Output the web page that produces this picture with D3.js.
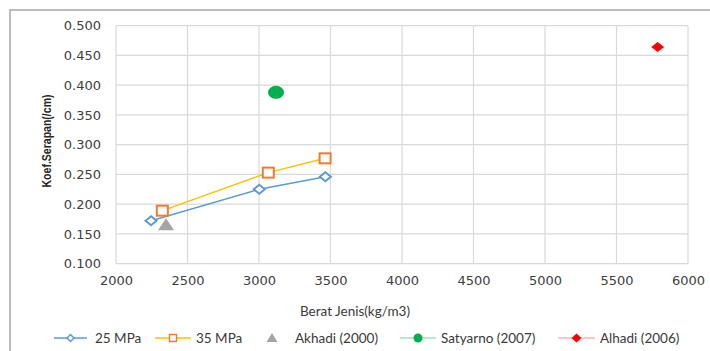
<!DOCTYPE html>
<html><head><meta charset="utf-8">
<script src="https://cdn.jsdelivr.net/npm/d3@7/dist/d3.min.js"></script>
<style>body{margin:0;background:#fff}svg{display:block}</style>
</head><body><svg id="c" width="710" height="351"></svg>
<script>
const seriesNames = ["25 MPa","35 MPa","Akhadi (2000)","Satyarno (2007)","Alhadi (2006)"];
const mpa25 = [[2245,0.172],[3002,0.225],[3464,0.246]];
const mpa35 = [[2324,0.189],[3065,0.253],[3462,0.277]];
const akhadi = [[2350,0.166]];
const satyarno = [[3119,0.388]];
const alhadi = [[5788,0.464]];
const xTicks = [2000,2500,3000,3500,4000,4500,5000,5500,6000];
const yTicks = [0.1,0.15,0.2,0.25,0.3,0.35,0.4,0.45,0.5];

const svg = d3.select("#c");
const x = d3.scaleLinear().domain([2000,6000]).range([116,688]);
const y = d3.scaleLinear().domain([0.1,0.5]).range([263.6,25.7]);

svg.append("rect").attr("x",10).attr("y",10).attr("width",720).attr("height",360)
  .attr("fill","#fff").attr("stroke","#a6a6a6").attr("stroke-width",1.5);

// grid
const g = svg.append("g");
g.selectAll(".gx").data(xTicks).join("line")
  .attr("x1",d=>x(d)).attr("x2",d=>x(d)).attr("y1",y(0.5)).attr("y2",y(0.1))
  .attr("stroke","#d9d9d9").attr("stroke-width",1.2);
g.selectAll(".gy").data(yTicks).join("line")
  .attr("y1",d=>y(d)).attr("y2",d=>y(d)).attr("x1",x(2000)).attr("x2",x(6000))
  .attr("stroke","#d9d9d9").attr("stroke-width",1.2);

// axes labels
const xAxis = svg.append("g").attr("transform",`translate(0,${y(0.1)})`)
  .call(d3.axisBottom(x).tickValues(xTicks).tickSize(0).tickPadding(12).tickFormat(d3.format("d")));
xAxis.select(".domain").remove();
xAxis.selectAll("text").attr("font-family","DejaVu Sans").attr("font-size",13).attr("fill","#404040");
const yAxis = svg.append("g").attr("transform",`translate(${x(2000)},0)`)
  .call(d3.axisLeft(y).tickValues(yTicks).tickSize(0).tickPadding(15).tickFormat(d3.format(".3f")));
yAxis.select(".domain").remove();
yAxis.selectAll("text").attr("font-family","DejaVu Sans").attr("font-size",13).attr("fill","#404040");

svg.append("text").attr("transform","translate(51,141) rotate(-90)").attr("text-anchor","middle")
  .attr("font-family","Liberation Sans Narrow, Liberation Sans").attr("font-weight","bold").attr("font-size",13.5)
  .attr("textLength",93).attr("lengthAdjust","spacingAndGlyphs")
  .attr("fill","#262626").text("Koef.Serapan(/cm)");
svg.append("text").attr("x",355).attr("y",316).attr("text-anchor","middle")
  .attr("font-family","Lato").attr("font-size",13.5).attr("fill","#3a3a3a").text("Berat Jenis(kg/m3)");

const line = d3.line().x(d=>x(d[0])).y(d=>y(d[1]));
svg.append("path").attr("d",line(mpa25)).attr("fill","none").attr("stroke","#5b9bd5").attr("stroke-width",1.5);
svg.append("path").attr("d",line(mpa35)).attr("fill","none").attr("stroke","#ffc000").attr("stroke-width",1.5);

function diamond(sel,w,h){ return sel.attr("d",`M0,${-h/2}L${w/2},0L0,${h/2}L${-w/2},0Z`); }
svg.selectAll(".m25").data(mpa25).join("path")
  .attr("transform",d=>`translate(${x(d[0])},${y(d[1])})`)
  .call(diamond,11,9).attr("fill","#fff").attr("stroke","#5b9bd5").attr("stroke-width",2);
svg.selectAll(".m35").data(mpa35).join("rect")
  .attr("x",d=>x(d[0])-5.5).attr("y",d=>y(d[1])-5).attr("width",11).attr("height",10)
  .attr("fill","#fff").attr("stroke","#ed7d31").attr("stroke-width",2);
svg.selectAll(".ma").data(akhadi).join("path")
  .attr("transform",d=>`translate(${x(d[0])},${y(d[1])})`)
  .attr("d","M0,-6L8,6L-8,6Z").attr("fill","#a5a5a5");
svg.selectAll(".ms").data(satyarno).join("ellipse")
  .attr("cx",d=>x(d[0])).attr("cy",d=>y(d[1])).attr("rx",8).attr("ry",6.5).attr("fill","#00b050");
svg.selectAll(".mh").data(alhadi).join("path")
  .attr("transform",d=>`translate(${x(d[0])},${y(d[1])})`)
  .call(diamond,13,10).attr("fill","#ff0000");

// legend
const leg = svg.append("g").attr("font-family","Lato").attr("font-size",13.5).attr("fill","#3a3a3a");
const ly = 338;
const items = [
  {x0:54,x1:87,tx:95,c:"#5b9bd5",m:"diamond"},
  {x0:155,x1:191,tx:196,c:"#ffc000",m:"square"},
  {x0:null,tx:295,c:"#a5a5a5",m:"tri",mx:272},
  {x0:400,x1:436,tx:441,c:"#a9dcb6",m:"circle"},
  {x0:558,x1:595,tx:600,c:"#ffb3b3",m:"reddiamond"}
];
items.forEach((it,i)=>{
  if(it.x0!==null){
    leg.append("line").attr("x1",it.x0).attr("x2",it.x1).attr("y1",ly).attr("y2",ly).attr("stroke",it.c).attr("stroke-width",1.5);
  }
  const cx = it.x0!==null ? (it.x0+it.x1)/2 : it.mx;
  if(it.m==="diamond") leg.append("path").attr("transform",`translate(${cx},${ly})`).call(diamond,7,7).attr("fill","#fff").attr("stroke","#5b9bd5").attr("stroke-width",1.5);
  if(it.m==="square") leg.append("rect").attr("x",cx-3.5).attr("y",ly-3.5).attr("width",7).attr("height",7).attr("fill","#fff").attr("stroke","#ed7d31").attr("stroke-width",1.5);
  if(it.m==="tri") leg.append("path").attr("transform",`translate(${cx},${ly})`).attr("d","M0,-5L5.5,4L-5.5,4Z").attr("fill","#a5a5a5");
  if(it.m==="circle") leg.append("circle").attr("cx",cx).attr("cy",ly).attr("r",4.5).attr("fill","#00b050");
  if(it.m==="reddiamond") leg.append("path").attr("transform",`translate(${cx},${ly})`).call(diamond,10,9).attr("fill","#ff0000");
  leg.append("text").attr("x",it.tx).attr("y",ly+5).text(seriesNames[i]);
});
</script></body></html>
